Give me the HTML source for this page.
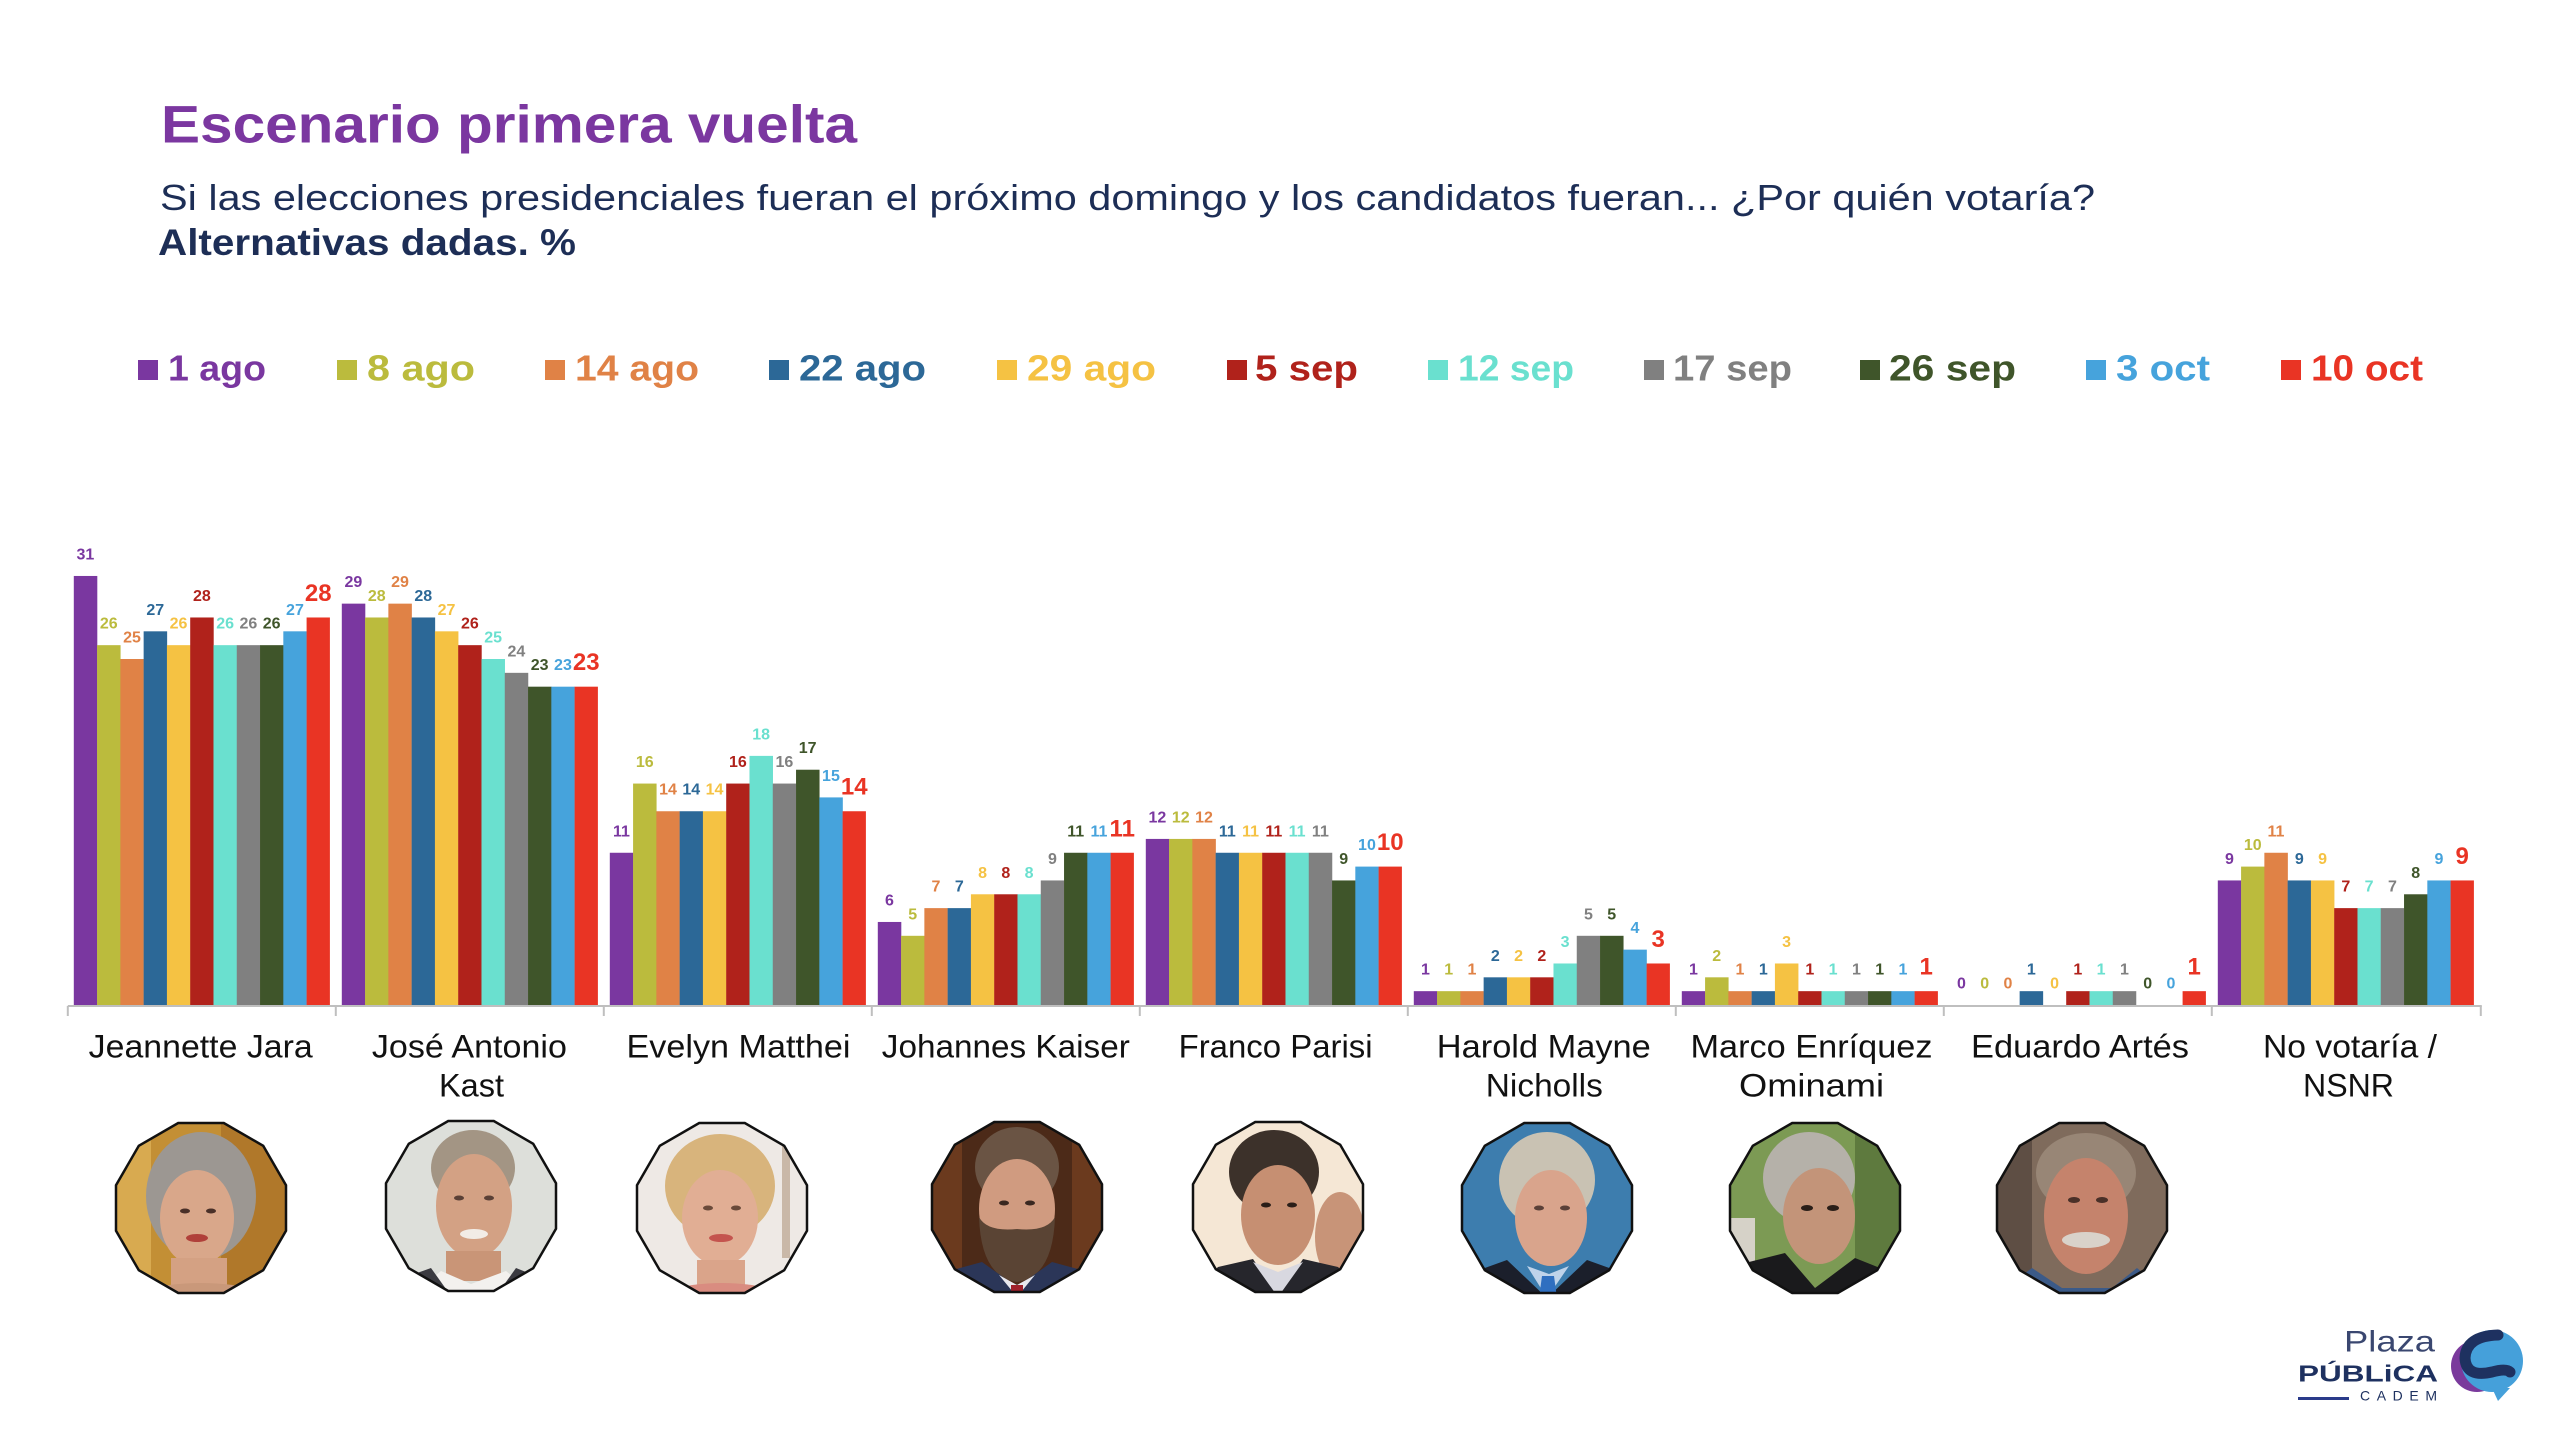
<!DOCTYPE html>
<html>
<head>
<meta charset="utf-8">
<style>
html,body{margin:0;padding:0;background:#fff;}
svg{display:block;}
.c0{fill:#7A37A0}.c1{fill:#BBBB3D}.c2{fill:#E08246}.c3{fill:#2C6897}.c4{fill:#F5C243}.c5{fill:#B0221B}.c6{fill:#6AE0CF}.c7{fill:#808080}.c8{fill:#3F552A}.c9{fill:#46A3DC}.c10{fill:#E93424}
.l{font-family:"Liberation Sans",sans-serif;font-weight:bold;font-size:16px;text-anchor:middle;}
.lb{font-family:"Liberation Sans",sans-serif;font-weight:bold;font-size:24px;text-anchor:middle;}
.cat{font-family:"Liberation Sans",sans-serif;font-size:32px;fill:#111;text-anchor:middle;}
.leg{font-family:"Liberation Sans",sans-serif;font-weight:bold;font-size:36px;}
</style>
</head>
<body>
<svg width="2550" height="1432" viewBox="0 0 2550 1432" xmlns="http://www.w3.org/2000/svg">
<defs>
<clipPath id="dod" clipPathUnits="userSpaceOnUse">
<polygon points="85,22.8 62.2,62.2 22.8,85 -22.8,85 -62.2,62.2 -85,22.8 -85,-22.8 -62.2,-62.2 -22.8,-85 22.8,-85 62.2,-62.2 85,-22.8"/>
</clipPath>
</defs>
<rect width="2550" height="1432" fill="#fff"/>

<!-- Title -->
<text x="161" y="142.5" font-family="Liberation Sans, sans-serif" font-weight="bold" font-size="53" fill="#7B37A0" textLength="696" lengthAdjust="spacingAndGlyphs">Escenario primera vuelta</text>
<text x="160" y="210" font-family="Liberation Sans, sans-serif" font-size="36" fill="#1D2E56" textLength="1935" lengthAdjust="spacingAndGlyphs">Si las elecciones presidenciales fueran el próximo domingo y los candidatos fueran... ¿Por quién votaría?</text>
<text x="158" y="255" font-family="Liberation Sans, sans-serif" font-weight="bold" font-size="37" fill="#1D2E56" textLength="418" lengthAdjust="spacingAndGlyphs">Alternativas dadas. %</text>

<!-- Legend -->
<rect class="c0" x="138" y="360" width="20" height="20"/><text class="leg c0" x="168" y="380.5" textLength="98" lengthAdjust="spacingAndGlyphs">1 ago</text>
<rect class="c1" x="337" y="360" width="20" height="20"/><text class="leg c1" x="367" y="380.5" textLength="108" lengthAdjust="spacingAndGlyphs">8 ago</text>
<rect class="c2" x="545" y="360" width="20" height="20"/><text class="leg c2" x="575" y="380.5" textLength="124" lengthAdjust="spacingAndGlyphs">14 ago</text>
<rect class="c3" x="769" y="360" width="20" height="20"/><text class="leg c3" x="799" y="380.5" textLength="127" lengthAdjust="spacingAndGlyphs">22 ago</text>
<rect class="c4" x="997" y="360" width="20" height="20"/><text class="leg c4" x="1027" y="380.5" textLength="129" lengthAdjust="spacingAndGlyphs">29 ago</text>
<rect class="c5" x="1227" y="360" width="20" height="20"/><text class="leg c5" x="1255" y="380.5" textLength="103" lengthAdjust="spacingAndGlyphs">5 sep</text>
<rect class="c6" x="1428" y="360" width="20" height="20"/><text class="leg c6" x="1458" y="380.5" textLength="116" lengthAdjust="spacingAndGlyphs">12 sep</text>
<rect class="c7" x="1644" y="360" width="20" height="20"/><text class="leg c7" x="1673" y="380.5" textLength="119" lengthAdjust="spacingAndGlyphs">17 sep</text>
<rect class="c8" x="1860" y="360" width="20" height="20"/><text class="leg c8" x="1889" y="380.5" textLength="127" lengthAdjust="spacingAndGlyphs">26 sep</text>
<rect class="c9" x="2086" y="360" width="20" height="20"/><text class="leg c9" x="2116" y="380.5" textLength="94" lengthAdjust="spacingAndGlyphs">3 oct</text>
<rect class="c10" x="2281" y="360" width="20" height="20"/><text class="leg c10" x="2311" y="380.5" textLength="112" lengthAdjust="spacingAndGlyphs">10 oct</text>

<!-- Bars: G0 Jara -->
<g transform="translate(73.8,1005) scale(1,-13.84)">
<rect class="c0" x="0" width="23.5" height="31"/><rect class="c1" x="23.28" width="23.5" height="26"/><rect class="c2" x="46.56" width="23.5" height="25"/><rect class="c3" x="69.84" width="23.5" height="27"/><rect class="c4" x="93.12" width="23.5" height="26"/><rect class="c5" x="116.4" width="23.5" height="28"/><rect class="c6" x="139.68" width="23.5" height="26"/><rect class="c7" x="162.96" width="23.5" height="26"/><rect class="c8" x="186.24" width="23.5" height="26"/><rect class="c9" x="209.52" width="23.5" height="27"/><rect class="c10" x="232.8" width="23.3" height="28"/>
</g>
<g transform="translate(73.8,0)">
<text class="l c0" x="11.64" y="559.5">31</text><text class="l c1" x="34.92" y="628.7">26</text><text class="l c2" x="58.2" y="642.5">25</text><text class="l c3" x="81.48" y="614.8">27</text><text class="l c4" x="104.76" y="628.7">26</text><text class="l c5" x="128.04" y="601">28</text><text class="l c6" x="151.32" y="628.7">26</text><text class="l c7" x="174.6" y="628.7">26</text><text class="l c8" x="197.88" y="628.7">26</text><text class="l c9" x="221.16" y="614.8">27</text><text class="lb c10" x="244.44" y="601">28</text>
</g>

<!-- G1 Kast -->
<g transform="translate(341.8,1005) scale(1,-13.84)">
<rect class="c0" x="0" width="23.5" height="29"/><rect class="c1" x="23.28" width="23.5" height="28"/><rect class="c2" x="46.56" width="23.5" height="29"/><rect class="c3" x="69.84" width="23.5" height="28"/><rect class="c4" x="93.12" width="23.5" height="27"/><rect class="c5" x="116.4" width="23.5" height="26"/><rect class="c6" x="139.68" width="23.5" height="25"/><rect class="c7" x="162.96" width="23.5" height="24"/><rect class="c8" x="186.24" width="23.5" height="23"/><rect class="c9" x="209.52" width="23.5" height="23"/><rect class="c10" x="232.8" width="23.3" height="23"/>
</g>
<g transform="translate(341.8,0)">
<text class="l c0" x="11.64" y="587.1">29</text><text class="l c1" x="34.92" y="601">28</text><text class="l c2" x="58.2" y="587.1">29</text><text class="l c3" x="81.48" y="601">28</text><text class="l c4" x="104.76" y="614.8">27</text><text class="l c5" x="128.04" y="628.7">26</text><text class="l c6" x="151.32" y="642.5">25</text><text class="l c7" x="174.6" y="656.3">24</text><text class="l c8" x="197.88" y="670.2">23</text><text class="l c9" x="221.16" y="670.2">23</text><text class="lb c10" x="244.44" y="670.2">23</text>
</g>

<!-- G2 Matthei -->
<g transform="translate(609.8,1005) scale(1,-13.84)">
<rect class="c0" x="0" width="23.5" height="11"/><rect class="c1" x="23.28" width="23.5" height="16"/><rect class="c2" x="46.56" width="23.5" height="14"/><rect class="c3" x="69.84" width="23.5" height="14"/><rect class="c4" x="93.12" width="23.5" height="14"/><rect class="c5" x="116.4" width="23.5" height="16"/><rect class="c6" x="139.68" width="23.5" height="18"/><rect class="c7" x="162.96" width="23.5" height="16"/><rect class="c8" x="186.24" width="23.5" height="17"/><rect class="c9" x="209.52" width="23.5" height="15"/><rect class="c10" x="232.8" width="23.3" height="14"/>
</g>
<g transform="translate(609.8,0)">
<text class="l c0" x="11.64" y="836.3">11</text><text class="l c1" x="34.92" y="767.1">16</text><text class="l c2" x="58.2" y="794.7">14</text><text class="l c3" x="81.48" y="794.7">14</text><text class="l c4" x="104.76" y="794.7">14</text><text class="l c5" x="128.04" y="767.1">16</text><text class="l c6" x="151.32" y="739.4">18</text><text class="l c7" x="174.6" y="767.1">16</text><text class="l c8" x="197.88" y="753.2">17</text><text class="l c9" x="221.16" y="780.9">15</text><text class="lb c10" x="244.44" y="794.7">14</text>
</g>

<!-- G3 Kaiser -->
<g transform="translate(877.8,1005) scale(1,-13.84)">
<rect class="c0" x="0" width="23.5" height="6"/><rect class="c1" x="23.28" width="23.5" height="5"/><rect class="c2" x="46.56" width="23.5" height="7"/><rect class="c3" x="69.84" width="23.5" height="7"/><rect class="c4" x="93.12" width="23.5" height="8"/><rect class="c5" x="116.4" width="23.5" height="8"/><rect class="c6" x="139.68" width="23.5" height="8"/><rect class="c7" x="162.96" width="23.5" height="9"/><rect class="c8" x="186.24" width="23.5" height="11"/><rect class="c9" x="209.52" width="23.5" height="11"/><rect class="c10" x="232.8" width="23.3" height="11"/>
</g>
<g transform="translate(877.8,0)">
<text class="l c0" x="11.64" y="905.5">6</text><text class="l c1" x="34.92" y="919.3">5</text><text class="l c2" x="58.2" y="891.6">7</text><text class="l c3" x="81.48" y="891.6">7</text><text class="l c4" x="104.76" y="877.8">8</text><text class="l c5" x="128.04" y="877.8">8</text><text class="l c6" x="151.32" y="877.8">8</text><text class="l c7" x="174.6" y="863.9">9</text><text class="l c8" x="197.88" y="836.3">11</text><text class="l c9" x="221.16" y="836.3">11</text><text class="lb c10" x="244.44" y="836.3">11</text>
</g>

<!-- G4 Parisi -->
<g transform="translate(1145.8,1005) scale(1,-13.84)">
<rect class="c0" x="0" width="23.5" height="12"/><rect class="c1" x="23.28" width="23.5" height="12"/><rect class="c2" x="46.56" width="23.5" height="12"/><rect class="c3" x="69.84" width="23.5" height="11"/><rect class="c4" x="93.12" width="23.5" height="11"/><rect class="c5" x="116.4" width="23.5" height="11"/><rect class="c6" x="139.68" width="23.5" height="11"/><rect class="c7" x="162.96" width="23.5" height="11"/><rect class="c8" x="186.24" width="23.5" height="9"/><rect class="c9" x="209.52" width="23.5" height="10"/><rect class="c10" x="232.8" width="23.3" height="10"/>
</g>
<g transform="translate(1145.8,0)">
<text class="l c0" x="11.64" y="822.4">12</text><text class="l c1" x="34.92" y="822.4">12</text><text class="l c2" x="58.2" y="822.4">12</text><text class="l c3" x="81.48" y="836.3">11</text><text class="l c4" x="104.76" y="836.3">11</text><text class="l c5" x="128.04" y="836.3">11</text><text class="l c6" x="151.32" y="836.3">11</text><text class="l c7" x="174.6" y="836.3">11</text><text class="l c8" x="197.88" y="863.9">9</text><text class="l c9" x="221.16" y="850.1">10</text><text class="lb c10" x="244.44" y="850.1">10</text>
</g>

<!-- G5 Mayne Nicholls -->
<g transform="translate(1413.8,1005) scale(1,-13.84)">
<rect class="c0" x="0" width="23.5" height="1"/><rect class="c1" x="23.28" width="23.5" height="1"/><rect class="c2" x="46.56" width="23.5" height="1"/><rect class="c3" x="69.84" width="23.5" height="2"/><rect class="c4" x="93.12" width="23.5" height="2"/><rect class="c5" x="116.4" width="23.5" height="2"/><rect class="c6" x="139.68" width="23.5" height="3"/><rect class="c7" x="162.96" width="23.5" height="5"/><rect class="c8" x="186.24" width="23.5" height="5"/><rect class="c9" x="209.52" width="23.5" height="4"/><rect class="c10" x="232.8" width="23.3" height="3"/>
</g>
<g transform="translate(1413.8,0)">
<text class="l c0" x="11.64" y="974.7">1</text><text class="l c1" x="34.92" y="974.7">1</text><text class="l c2" x="58.2" y="974.7">1</text><text class="l c3" x="81.48" y="960.8">2</text><text class="l c4" x="104.76" y="960.8">2</text><text class="l c5" x="128.04" y="960.8">2</text><text class="l c6" x="151.32" y="947">3</text><text class="l c7" x="174.6" y="919.3">5</text><text class="l c8" x="197.88" y="919.3">5</text><text class="l c9" x="221.16" y="933.1">4</text><text class="lb c10" x="244.44" y="947">3</text>
</g>

<!-- G6 MEO -->
<g transform="translate(1681.8,1005) scale(1,-13.84)">
<rect class="c0" x="0" width="23.5" height="1"/><rect class="c1" x="23.28" width="23.5" height="2"/><rect class="c2" x="46.56" width="23.5" height="1"/><rect class="c3" x="69.84" width="23.5" height="1"/><rect class="c4" x="93.12" width="23.5" height="3"/><rect class="c5" x="116.4" width="23.5" height="1"/><rect class="c6" x="139.68" width="23.5" height="1"/><rect class="c7" x="162.96" width="23.5" height="1"/><rect class="c8" x="186.24" width="23.5" height="1"/><rect class="c9" x="209.52" width="23.5" height="1"/><rect class="c10" x="232.8" width="23.3" height="1"/>
</g>
<g transform="translate(1681.8,0)">
<text class="l c0" x="11.64" y="974.7">1</text><text class="l c1" x="34.92" y="960.8">2</text><text class="l c2" x="58.2" y="974.7">1</text><text class="l c3" x="81.48" y="974.7">1</text><text class="l c4" x="104.76" y="947">3</text><text class="l c5" x="128.04" y="974.7">1</text><text class="l c6" x="151.32" y="974.7">1</text><text class="l c7" x="174.6" y="974.7">1</text><text class="l c8" x="197.88" y="974.7">1</text><text class="l c9" x="221.16" y="974.7">1</text><text class="lb c10" x="244.44" y="974.7">1</text>
</g>

<!-- G7 Artés -->
<g transform="translate(1949.8,1005) scale(1,-13.84)">
<rect class="c3" x="69.84" width="23.5" height="1"/><rect class="c5" x="116.4" width="23.5" height="1"/><rect class="c6" x="139.68" width="23.5" height="1"/><rect class="c7" x="162.96" width="23.5" height="1"/><rect class="c10" x="232.8" width="23.3" height="1"/>
</g>
<g transform="translate(1949.8,0)">
<text class="l c0" x="11.64" y="988.5">0</text><text class="l c1" x="34.92" y="988.5">0</text><text class="l c2" x="58.2" y="988.5">0</text><text class="l c3" x="81.48" y="974.7">1</text><text class="l c4" x="104.76" y="988.5">0</text><text class="l c5" x="128.04" y="974.7">1</text><text class="l c6" x="151.32" y="974.7">1</text><text class="l c7" x="174.6" y="974.7">1</text><text class="l c8" x="197.88" y="988.5">0</text><text class="l c9" x="221.16" y="988.5">0</text><text class="lb c10" x="244.44" y="974.7">1</text>
</g>

<!-- G8 No votaría -->
<g transform="translate(2217.8,1005) scale(1,-13.84)">
<rect class="c0" x="0" width="23.5" height="9"/><rect class="c1" x="23.28" width="23.5" height="10"/><rect class="c2" x="46.56" width="23.5" height="11"/><rect class="c3" x="69.84" width="23.5" height="9"/><rect class="c4" x="93.12" width="23.5" height="9"/><rect class="c5" x="116.4" width="23.5" height="7"/><rect class="c6" x="139.68" width="23.5" height="7"/><rect class="c7" x="162.96" width="23.5" height="7"/><rect class="c8" x="186.24" width="23.5" height="8"/><rect class="c9" x="209.52" width="23.5" height="9"/><rect class="c10" x="232.8" width="23.3" height="9"/>
</g>
<g transform="translate(2217.8,0)">
<text class="l c0" x="11.64" y="863.9">9</text><text class="l c1" x="34.92" y="850.1">10</text><text class="l c2" x="58.2" y="836.3">11</text><text class="l c3" x="81.48" y="863.9">9</text><text class="l c4" x="104.76" y="863.9">9</text><text class="l c5" x="128.04" y="891.6">7</text><text class="l c6" x="151.32" y="891.6">7</text><text class="l c7" x="174.6" y="891.6">7</text><text class="l c8" x="197.88" y="877.8">8</text><text class="l c9" x="221.16" y="863.9">9</text><text class="lb c10" x="244.44" y="863.9">9</text>
</g>

<!-- Axis -->
<g stroke="#BFBFBF" stroke-width="2" fill="none">
<line x1="67.8" y1="1006" x2="2481.8" y2="1006"/>
<line x1="67.8" y1="1006" x2="67.8" y2="1016"/>
<line x1="335.8" y1="1006" x2="335.8" y2="1016"/>
<line x1="603.8" y1="1006" x2="603.8" y2="1016"/>
<line x1="871.8" y1="1006" x2="871.8" y2="1016"/>
<line x1="1139.8" y1="1006" x2="1139.8" y2="1016"/>
<line x1="1407.8" y1="1006" x2="1407.8" y2="1016"/>
<line x1="1675.8" y1="1006" x2="1675.8" y2="1016"/>
<line x1="1943.8" y1="1006" x2="1943.8" y2="1016"/>
<line x1="2211.8" y1="1006" x2="2211.8" y2="1016"/>
<line x1="2480.8" y1="1006" x2="2480.8" y2="1016"/>
</g>

<!-- Category labels -->
<text class="cat" x="200.7" y="1057.7" textLength="224" lengthAdjust="spacingAndGlyphs">Jeannette Jara</text>
<text class="cat" x="469.4" y="1057.7" textLength="195" lengthAdjust="spacingAndGlyphs">José Antonio</text>
<text class="cat" x="471.5" y="1096.7" textLength="65" lengthAdjust="spacingAndGlyphs">Kast</text>
<text class="cat" x="738.5" y="1057.7" textLength="224" lengthAdjust="spacingAndGlyphs">Evelyn Matthei</text>
<text class="cat" x="1005.8" y="1057.7" textLength="248" lengthAdjust="spacingAndGlyphs">Johannes Kaiser</text>
<text class="cat" x="1275.6" y="1057.7" textLength="194" lengthAdjust="spacingAndGlyphs">Franco Parisi</text>
<text class="cat" x="1543.8" y="1057.7" textLength="214" lengthAdjust="spacingAndGlyphs">Harold Mayne</text>
<text class="cat" x="1544.3" y="1096.7" textLength="117" lengthAdjust="spacingAndGlyphs">Nicholls</text>
<text class="cat" x="1811.5" y="1057.7" textLength="242" lengthAdjust="spacingAndGlyphs">Marco Enríquez</text>
<text class="cat" x="1811.5" y="1096.7" textLength="145" lengthAdjust="spacingAndGlyphs">Ominami</text>
<text class="cat" x="2080" y="1057.7" textLength="218" lengthAdjust="spacingAndGlyphs">Eduardo Artés</text>
<text class="cat" x="2350" y="1057.7" textLength="174" lengthAdjust="spacingAndGlyphs">No votaría /</text>
<text class="cat" x="2348.5" y="1096.7" textLength="91" lengthAdjust="spacingAndGlyphs">NSNR</text>

<!-- Photos -->
<!-- Jara -->
<g transform="translate(201,1208)">
<g clip-path="url(#dod)">
<rect x="-90" y="-90" width="180" height="180" fill="#C38F35"/>
<rect x="20" y="-90" width="70" height="180" fill="#B0782A"/>
<rect x="-90" y="-90" width="40" height="180" fill="#D8AA50"/>
<ellipse cx="0" cy="-12" rx="55" ry="64" fill="#9C9792"/>
<ellipse cx="-4" cy="10" rx="37" ry="48" fill="#D9A78A"/>
<ellipse cx="-4" cy="30" rx="11" ry="4" fill="#B0403A"/>
<ellipse cx="-16" cy="3" rx="5" ry="2.5" fill="#4A3028"/>
<ellipse cx="10" cy="3" rx="5" ry="2.5" fill="#4A3028"/>
<rect x="-30" y="50" width="56" height="45" fill="#D4A183"/>
<ellipse cx="0" cy="100" rx="80" ry="25" fill="#C9987A"/>
</g>
<polygon points="85,22.8 62.2,62.2 22.8,85 -22.8,85 -62.2,62.2 -85,22.8 -85,-22.8 -62.2,-62.2 -22.8,-85 22.8,-85 62.2,-62.2 85,-22.8" fill="none" stroke="#111" stroke-width="2.5"/>
</g>
<!-- Kast -->
<g transform="translate(471,1206)">
<g clip-path="url(#dod)">
<rect x="-90" y="-90" width="180" height="180" fill="#DDDFDA"/>
<ellipse cx="2" cy="-38" rx="42" ry="38" fill="#A39584"/>
<ellipse cx="3" cy="0" rx="38" ry="52" fill="#D3A184"/>
<ellipse cx="-12" cy="-8" rx="5" ry="2.5" fill="#5A4036"/>
<ellipse cx="18" cy="-8" rx="5" ry="2.5" fill="#5A4036"/>
<ellipse cx="3" cy="28" rx="14" ry="5" fill="#F2ECE6"/>
<rect x="-25" y="45" width="55" height="30" fill="#C99577"/>
<polygon points="-60,90 -30,65 0,78 35,65 65,90" fill="#F3F1EE"/>
<polygon points="-90,90 -90,80 -40,62 -20,90" fill="#3A3A40"/>
<polygon points="90,90 90,80 45,62 25,90" fill="#3A3A40"/>
</g>
<polygon points="85,22.8 62.2,62.2 22.8,85 -22.8,85 -62.2,62.2 -85,22.8 -85,-22.8 -62.2,-62.2 -22.8,-85 22.8,-85 62.2,-62.2 85,-22.8" fill="none" stroke="#111" stroke-width="2.5"/>
</g>
<!-- Matthei -->
<g transform="translate(722,1208)">
<g clip-path="url(#dod)">
<rect x="-90" y="-90" width="180" height="180" fill="#EEE9E5"/>
<rect x="60" y="-90" width="8" height="140" fill="#C9B8A8"/>
<ellipse cx="-2" cy="-22" rx="55" ry="52" fill="#D8B47C"/>
<ellipse cx="-2" cy="10" rx="38" ry="48" fill="#E1AE94"/>
<ellipse cx="-14" cy="0" rx="5" ry="2.5" fill="#6A4A3A"/>
<ellipse cx="14" cy="0" rx="5" ry="2.5" fill="#6A4A3A"/>
<ellipse cx="-1" cy="30" rx="12" ry="4" fill="#C4544E"/>
<rect x="-25" y="52" width="48" height="30" fill="#DAA48A"/>
<ellipse cx="0" cy="100" rx="75" ry="25" fill="#D98C80"/>
</g>
<polygon points="85,22.8 62.2,62.2 22.8,85 -22.8,85 -62.2,62.2 -85,22.8 -85,-22.8 -62.2,-62.2 -22.8,-85 22.8,-85 62.2,-62.2 85,-22.8" fill="none" stroke="#111" stroke-width="2.5"/>
</g>
<!-- Kaiser -->
<g transform="translate(1017,1207)">
<g clip-path="url(#dod)">
<rect x="-90" y="-90" width="180" height="180" fill="#4C2A18"/>
<rect x="-90" y="-90" width="35" height="180" fill="#6B3A1E"/>
<rect x="55" y="-90" width="35" height="180" fill="#6B3A1E"/>
<ellipse cx="0" cy="-40" rx="42" ry="40" fill="#6A5444"/>
<ellipse cx="0" cy="2" rx="38" ry="50" fill="#D09B80"/>
<ellipse cx="-13" cy="-4" rx="5" ry="2.5" fill="#3A2820"/>
<ellipse cx="13" cy="-4" rx="5" ry="2.5" fill="#3A2820"/>
<path d="M-38,10 Q-36,70 0,75 Q36,70 38,10 Q30,25 0,22 Q-30,25 -38,10Z" fill="#5A4434"/>
<polygon points="-90,90 -90,70 -35,55 0,80 35,55 90,70 90,90" fill="#2B3658"/>
<polygon points="-18,68 0,90 18,68 0,78" fill="#E8E8EE"/>
<rect x="-6" y="78" width="12" height="12" fill="#A0202A"/>
</g>
<polygon points="85,22.8 62.2,62.2 22.8,85 -22.8,85 -62.2,62.2 -85,22.8 -85,-22.8 -62.2,-62.2 -22.8,-85 22.8,-85 62.2,-62.2 85,-22.8" fill="none" stroke="#111" stroke-width="2.5"/>
</g>
<!-- Parisi -->
<g transform="translate(1278,1207)">
<g clip-path="url(#dod)">
<rect x="-90" y="-90" width="180" height="180" fill="#F5E7D5"/>
<ellipse cx="62" cy="30" rx="25" ry="45" fill="#C89478"/>
<ellipse cx="-4" cy="-35" rx="45" ry="42" fill="#3C312A"/>
<ellipse cx="0" cy="8" rx="37" ry="50" fill="#C68F72"/>
<ellipse cx="-12" cy="-2" rx="5" ry="2.5" fill="#2A1E18"/>
<ellipse cx="14" cy="-2" rx="5" ry="2.5" fill="#2A1E18"/>
<polygon points="-90,90 -60,60 -25,52 0,90" fill="#26262C"/>
<polygon points="90,90 60,60 25,52 0,90" fill="#26262C"/>
<polygon points="-25,55 0,90 25,55 0,65" fill="#D8D8E0"/>
</g>
<polygon points="85,22.8 62.2,62.2 22.8,85 -22.8,85 -62.2,62.2 -85,22.8 -85,-22.8 -62.2,-62.2 -22.8,-85 22.8,-85 62.2,-62.2 85,-22.8" fill="none" stroke="#111" stroke-width="2.5"/>
</g>
<!-- Mayne Nicholls -->
<g transform="translate(1547,1208)">
<g clip-path="url(#dod)">
<rect x="-90" y="-90" width="180" height="180" fill="#3D7DAE"/>
<ellipse cx="0" cy="-28" rx="48" ry="48" fill="#C9C2B3"/>
<ellipse cx="4" cy="10" rx="36" ry="48" fill="#D9A48C"/>
<ellipse cx="-8" cy="0" rx="5" ry="2.5" fill="#5A4038"/>
<ellipse cx="18" cy="0" rx="5" ry="2.5" fill="#5A4038"/>
<polygon points="-90,90 -90,70 -40,52 0,90 40,52 90,70 90,90" fill="#1B1F2B"/>
<polygon points="-20,58 0,90 22,58 2,66" fill="#BFD3EA"/>
<polygon points="-5,68 7,68 10,90 -8,90" fill="#2F6FC0"/>
</g>
<polygon points="85,22.8 62.2,62.2 22.8,85 -22.8,85 -62.2,62.2 -85,22.8 -85,-22.8 -62.2,-62.2 -22.8,-85 22.8,-85 62.2,-62.2 85,-22.8" fill="none" stroke="#111" stroke-width="2.5"/>
</g>
<!-- MEO -->
<g transform="translate(1815,1208)">
<g clip-path="url(#dod)">
<rect x="-90" y="-90" width="180" height="180" fill="#7C9A54"/>
<rect x="40" y="-90" width="50" height="180" fill="#5E7A3E"/>
<rect x="-90" y="10" width="30" height="80" fill="#D6D2C8"/>
<ellipse cx="-6" cy="-30" rx="46" ry="46" fill="#B5B1A9"/>
<ellipse cx="4" cy="8" rx="36" ry="48" fill="#C39479"/>
<ellipse cx="-8" cy="0" rx="6" ry="3" fill="#2A1E18"/>
<ellipse cx="18" cy="0" rx="6" ry="3" fill="#2A1E18"/>
<polygon points="-90,90 -70,55 -30,45 0,80 40,50 90,70 90,90" fill="#1A1A1C"/>
</g>
<polygon points="85,22.8 62.2,62.2 22.8,85 -22.8,85 -62.2,62.2 -85,22.8 -85,-22.8 -62.2,-62.2 -22.8,-85 22.8,-85 62.2,-62.2 85,-22.8" fill="none" stroke="#111" stroke-width="2.5"/>
</g>
<!-- Artés -->
<g transform="translate(2082,1208)">
<g clip-path="url(#dod)">
<rect x="-90" y="-90" width="180" height="180" fill="#7F6B5C"/>
<rect x="-90" y="-90" width="40" height="180" fill="#5E4E44"/>
<ellipse cx="4" cy="-35" rx="50" ry="40" fill="#988676"/>
<ellipse cx="4" cy="8" rx="42" ry="58" fill="#C5836C"/>
<ellipse cx="-8" cy="-8" rx="6" ry="3" fill="#4A3028"/>
<ellipse cx="20" cy="-8" rx="6" ry="3" fill="#4A3028"/>
<ellipse cx="4" cy="32" rx="24" ry="8" fill="#D9D2CA"/>
<polygon points="-90,90 -50,60 -20,80 30,80 55,60 90,90" fill="#3B5A88"/>
</g>
<polygon points="85,22.8 62.2,62.2 22.8,85 -22.8,85 -62.2,62.2 -85,22.8 -85,-22.8 -62.2,-62.2 -22.8,-85 22.8,-85 62.2,-62.2 85,-22.8" fill="none" stroke="#111" stroke-width="2.5"/>
</g>

<!-- Logo -->
<text x="2344" y="1351.7" font-family="Liberation Sans, sans-serif" font-size="30" fill="#3A4770" textLength="91" lengthAdjust="spacingAndGlyphs">Plaza</text>
<text x="2298" y="1381.7" font-family="Liberation Sans, sans-serif" font-weight="bold" font-size="23" fill="#1E3160" textLength="140" lengthAdjust="spacingAndGlyphs">PÚBLiCA</text>
<text x="2360" y="1400.7" font-family="Liberation Sans, sans-serif" font-size="14" fill="#1E3160" textLength="77" lengthAdjust="spacing">CADEM</text>
<rect x="2298" y="1397" width="51" height="3" fill="#2A3B8A"/>
<circle cx="2477" cy="1366" r="26" fill="#7A3A9C"/>
<circle cx="2492" cy="1361" r="31" fill="#45A0DA"/>
<polygon points="2492,1388 2510,1388 2498,1401" fill="#45A0DA"/>
<path d="M2498,1335 Q2466,1336 2465,1358 Q2466,1378 2492,1372 Q2506,1368 2510,1372" fill="none" stroke="#1E3160" stroke-width="11" stroke-linecap="round"/>
</svg>
</body>
</html>
